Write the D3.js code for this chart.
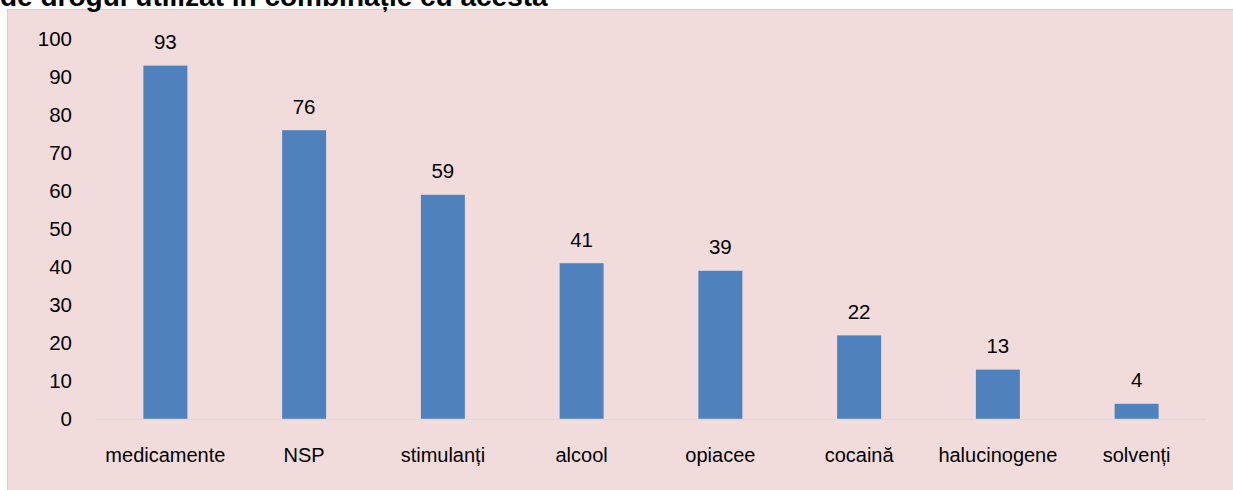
<!DOCTYPE html>
<html>
<head>
<meta charset="utf-8">
<script src="https://cdn.jsdelivr.net/npm/d3@7"></script>
<style>
  body { margin: 0; background: #fff; }
  text { font-family: "Liberation Sans", Arial, sans-serif; }
</style>
</head>
<body>
<div id="chart"></div>
<script>
// data
const categories = ["medicamente", "NSP", "stimulanți", "alcool", "opiacee", "cocaină", "halucinogene", "solvenți"];
const values = [93, 76, 59, 41, 39, 22, 13, 4];
const yTicks = [0, 10, 20, 30, 40, 50, 60, 70, 80, 90, 100];
const title = "de drogul utilizat în combinație cu acesta";

const W = 1233, H = 490;
const svg = d3.select("#chart").append("svg")
    .attr("width", W)
    .attr("height", H);

// pink chart area
svg.append("rect")
    .attr("x", 7.5).attr("y", 9.5)
    .attr("width", W - 6).attr("height", H)
    .attr("fill", "#F2DCDB")
    .attr("stroke", "#D0D0D0");

// title (top is cut in the original)
svg.append("text")
    .attr("x", 0).attr("y", 6)
    .attr("font-size", 28)
    .attr("font-weight", "bold")
    .text(title);

const x = d3.scaleBand().domain(categories).range([96, 1206]).paddingInner(0.683).paddingOuter(0.3415);
const y = d3.scaleLinear().domain([0, 100]).range([419, 39]);

// y axis labels
svg.append("g").selectAll("text")
    .data(yTicks)
    .enter().append("text")
    .attr("x", 72)
    .attr("y", d => y(d))
    .attr("dy", "0.35em")
    .attr("text-anchor", "end")
    .attr("font-size", 20.5)
    .attr("fill", "#000")
    .text(d => d);

// bars
svg.append("g").selectAll("rect")
    .data(values)
    .enter().append("rect")
    .attr("x", (d, i) => x(categories[i]))
    .attr("y", d => y(d))
    .attr("width", x.bandwidth())
    .attr("height", d => y(0) - y(d))
    .attr("fill", "#4F81BD");

// baseline
svg.append("line")
    .attr("x1", 96).attr("x2", 1206)
    .attr("y1", y(0) + 0.5).attr("y2", y(0) + 0.5)
    .attr("stroke", "#D9D9D9")
    .attr("stroke-width", 1.5);

// value labels
svg.append("g").selectAll("text")
    .data(values)
    .enter().append("text")
    .attr("x", (d, i) => x(categories[i]) + x.bandwidth() / 2)
    .attr("y", d => y(d) - 16.5)
    .attr("text-anchor", "middle")
    .attr("font-size", 20.5)
    .text(d => d);

// category labels
svg.append("g").selectAll("text")
    .data(categories)
    .enter().append("text")
    .attr("x", d => x(d) + x.bandwidth() / 2)
    .attr("y", 455)
    .attr("dy", "0.35em")
    .attr("text-anchor", "middle")
    .attr("font-size", 20)
    .text(d => d);
</script>
</body>
</html>
